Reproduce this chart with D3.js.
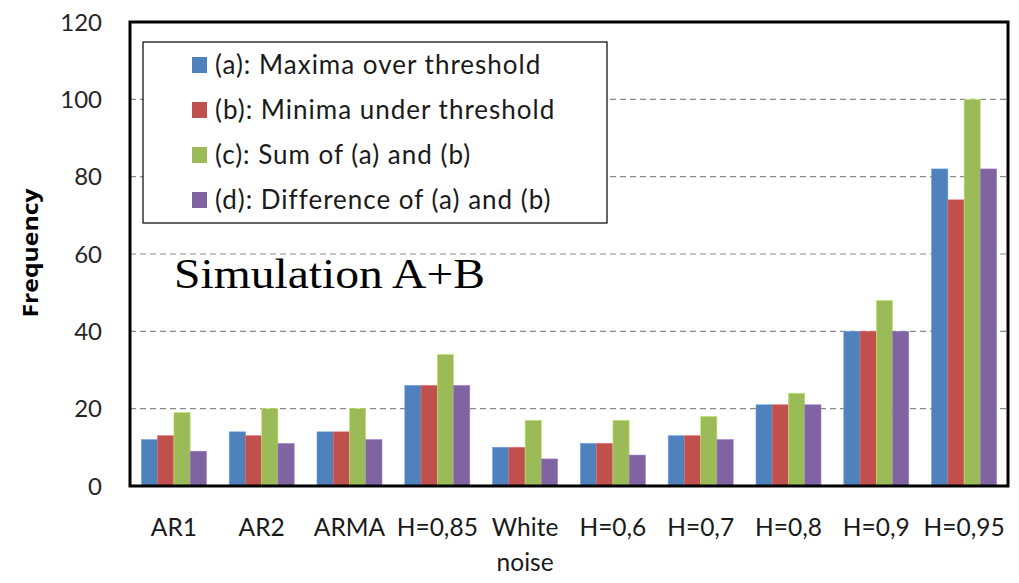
<!DOCTYPE html>
<html><head><meta charset="utf-8">
<script src="https://cdn.jsdelivr.net/npm/d3@7/dist/d3.min.js"></script>
<style>body{margin:0;background:#fff}svg{display:block}</style>
</head><body>
<svg id="c" width="1019" height="583"></svg>
<script>
const categories = ["AR1","AR2","ARMA","H=0,85","White noise","H=0,6","H=0,7","H=0,8","H=0,9","H=0,95"];
const seriesNames = ["(a): Maxima over threshold","(b): Minima under threshold","(c): Sum of (a) and (b)","(d): Difference of (a) and (b)"];
const maxima = [12,14,14,26,10,11,13,21,40,82];
const minima = [13,13,14,26,10,11,13,21,40,74];
const sums   = [19,20,20,34,17,17,18,24,48,100];
const diffs  = [9,11,12,26,7,8,12,21,40,82];
const yTicks = [0,20,40,60,80,100,120];
const colors = ["#4F81BD","#C0504D","#9BBB59","#8064A2"];
const series = [maxima, minima, sums, diffs];

const svg = d3.select("#c");
const L = 130, R = 1008, T = 22, B = 486;
const x = d3.scaleBand().domain(categories).range([L,R]).paddingInner(0.26).paddingOuter(0.13);
const xs = d3.scaleBand().domain(d3.range(4)).range([0,x.bandwidth()]);
const y = d3.scaleLinear().domain([0,120]).range([B,T]);
const font = "Lato, 'Open Sans', sans-serif";

// gridlines
svg.append("g").selectAll("line").data(yTicks.filter(t=>t>0 && t<120)).join("line")
  .attr("x1",L).attr("x2",R).attr("y1",d=>y(d)).attr("y2",d=>y(d))
  .attr("stroke","#8a8a8a").attr("stroke-width",1.2).attr("stroke-dasharray","6,4");

// bars
const g = svg.append("g");
categories.forEach((c,ci)=>{
  series.forEach((s,si)=>{
    g.append("rect").attr("x",x(c)+xs(si)).attr("y",y(s[ci]))
      .attr("width",xs.bandwidth()).attr("height",y(0)-y(s[ci]))
      .attr("fill",colors[si]).attr("stroke",d3.color(colors[si]).brighter(0.6)).attr("stroke-width",0.6);
  });
});

// frame
svg.append("rect").attr("x",L).attr("y",T).attr("width",R-L).attr("height",B-T)
  .attr("fill","none").attr("stroke","#000").attr("stroke-width",3);

// y tick labels
svg.append("g").selectAll("text").data(yTicks).join("text")
  .attr("x",102).attr("y",d=>y(d)).attr("dy","0.36em").attr("text-anchor","end")
  .attr("font-family",font).attr("font-size",24).attr("fill","#262626").text(d=>d);

// y title
svg.append("text").attr("transform","translate(38,253) rotate(-90)").attr("text-anchor","middle")
  .attr("font-family","'Open Sans', sans-serif").attr("font-weight","bold").attr("font-size",22).attr("fill","#000")
  .attr("textLength",129).attr("lengthAdjust","spacingAndGlyphs")
  .text("Frequency");

// x labels
svg.append("g").selectAll("text").data(categories).join("text")
  .attr("x",d=>x(d)+x.bandwidth()/2).attr("y",536).attr("text-anchor","middle")
  .attr("font-family",font).attr("font-size",24.5).attr("fill","#1a1a1a")
  .each(function(d){
    const parts = d.split(" ");
    const t = d3.select(this);
    parts.forEach((p,i)=>{ t.append("tspan").attr("x",x(d)+x.bandwidth()/2).attr("dy",i?35:0).text(p); });
  });

// legend
const lg = svg.append("g");
lg.append("rect").attr("x",143).attr("y",42).attr("width",464).attr("height",181)
  .attr("fill","#fff").attr("stroke","#000").attr("stroke-width",1.2);
seriesNames.forEach((n,i)=>{
  const cy = 65 + i*45;
  lg.append("rect").attr("x",192).attr("y",cy-8).attr("width",15).attr("height",16).attr("fill",colors[i]);
  lg.append("text").attr("x",215).attr("y",cy).attr("dy","0.36em")
    .attr("font-family",font).attr("font-size",26).attr("fill","#1a1a1a").attr("letter-spacing","1").text(n);
});

// annotation
svg.append("text").attr("x",174).attr("y",288).attr("font-family","'Liberation Serif', serif")
  .attr("font-size",43).attr("fill","#000").attr("textLength",311).attr("lengthAdjust","spacingAndGlyphs")
  .text("Simulation A+B");
</script>
</body></html>
